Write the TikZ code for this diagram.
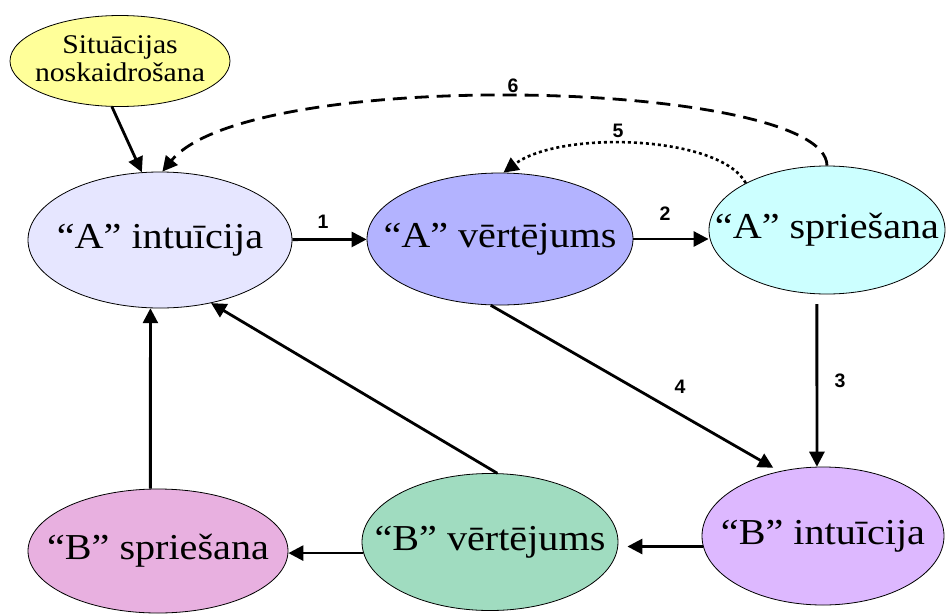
\documentclass[tikz,border=0pt]{standalone}
\usepackage{fontspec}
\setmainfont{Liberation Serif}[FakeStretch=1.1]
\newfontfamily\numfont{Liberation Sans}
\usetikzlibrary{shapes.geometric,arrows.meta}
\definecolor{cYel}{HTML}{FFFF99}
\definecolor{cAI}{HTML}{E6E6FF}
\definecolor{cAV}{HTML}{B3B3FF}
\definecolor{cAS}{HTML}{CCFFFF}
\definecolor{cBI}{HTML}{DDB8FF}
\definecolor{cBV}{HTML}{A0DCC0}
\definecolor{cBS}{HTML}{E8B0E0}
\begin{document}
\begin{tikzpicture}[x=1pt,y=-1pt,
  ell/.style={ellipse, draw=black, line width=0.8pt, inner sep=0pt, font=\fontsize{36.5}{40}\selectfont},
  arr/.style={line width=2.8pt, -{Triangle[length=15pt,width=15pt]}},
  num/.style={font=\numfont\bfseries\fontsize{19.5}{20}\selectfont, inner sep=0pt}]
\useasboundingbox (0,0) rectangle (946,614);
\node[ell, fill=cYel, minimum width=220pt, minimum height=91pt, font=\fontsize{27}{32}\selectfont] (sit) at (120,61) {\makebox[0pt]{\begin{tabular}{@{}c@{}}Situācijas\\[-4pt]noskaidrošana\end{tabular}}};
\node[ell, fill=cAI, minimum width=264pt, minimum height=136pt] (ai) at (160,240) {\makebox[0pt]{“A” intuīcija}};
\node[ell, fill=cAV, minimum width=266pt, minimum height=132pt] (av) at (500,239) {\makebox[0pt]{“A” vērtējums}};
\node[ell, fill=cAS, minimum width=236pt, minimum height=128pt] (as) at (827,230) {\makebox[0pt]{“A” spriešana}};
\node[ell, fill=cBI, minimum width=242pt, minimum height=138pt] (bi) at (823,536) {\makebox[0pt]{“B” intuīcija}};
\node[ell, fill=cBV, minimum width=256pt, minimum height=137pt] (bv) at (490,542) {\makebox[0pt]{“B” vērtējums}};
\node[ell, fill=cBS, minimum width=260pt, minimum height=124pt] (bs) at (158,551) {\makebox[0pt]{“B” spriešana}};

\draw[arr] (sit.260) -- (ai.105);
\draw[arr, dash pattern=on 14pt off 8pt] (as.north) .. controls (826,80) and (250,65) .. (ai.88);
\draw[arr, line width=2.6pt, dash pattern=on 3pt off 3pt] (as.150) .. controls (720,135) and (560,130) .. (av.87);
\draw[arr] (ai) -- (av);
\draw[arr] (av.east) -- (av.east -| as.west);
\draw[arr, shorten <=10pt] (as.261) -- (bi.95);
\draw[arr, shorten >=7pt] (av.262) -- (bi.124);
\draw[arr, shorten >=9pt] (bi.185) -- (bi.185 -| bv.east);
\draw[arr] (bv.185) -- (bv.185 -| bs.east);
\draw[arr] (bs.97) -- (ai.262);
\draw[arr] (bv.84) -- (ai.309);

\node[num] (n1) at (323,222) {1};
\node[num] (n2) at (665,214) {2};
\node[num] (n3) at (840,381) {3};
\node[num] (n4) at (680,387) {4};
\node[num] (n5) at (618,131) {5};
\node[num] (n6) at (513,86) {6};
\end{tikzpicture}
\end{document}
